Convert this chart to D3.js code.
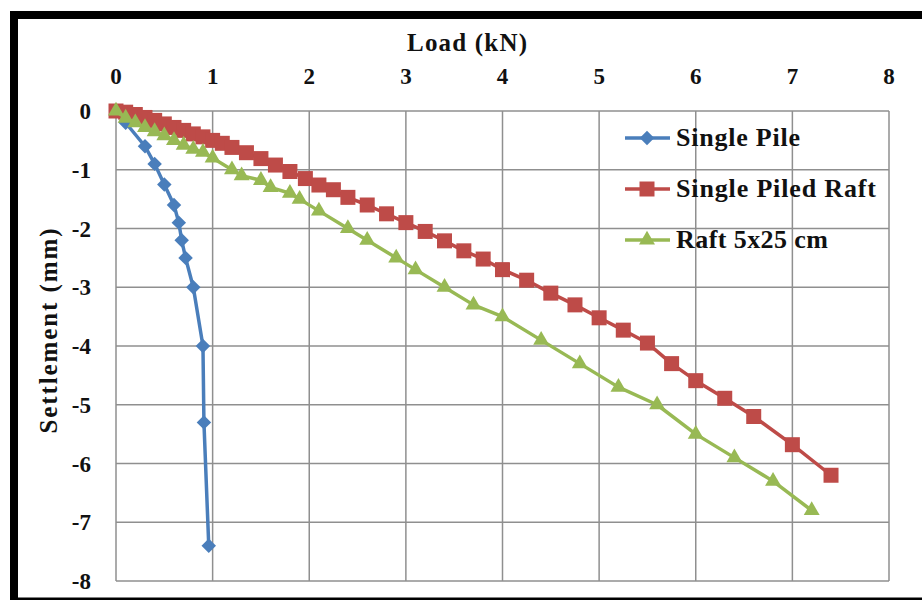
<!DOCTYPE html>
<html>
<head>
<meta charset="utf-8">
<script src="https://cdn.jsdelivr.net/npm/d3@7"></script>
<style>
  body { margin: 0; background: #fff; }
  svg { display: block; }
  text { font-family: "Liberation Serif", serif; font-weight: bold; fill: #111; }
</style>
</head>
<body>
<div id="chart"></div>
<script>
// load (kN) vs settlement (mm)
const singlePile = [
  [0, 0], [0.1, -0.2], [0.3, -0.6], [0.4, -0.9], [0.5, -1.25], [0.6, -1.6],
  [0.65, -1.9], [0.68, -2.2], [0.72, -2.5], [0.8, -3.0], [0.9, -4.0],
  [0.91, -5.3], [0.96, -7.4]
];
const singlePiledRaft = [
  [0, 0], [0.1, -0.02], [0.2, -0.06], [0.3, -0.11], [0.4, -0.16], [0.5, -0.22],
  [0.6, -0.28], [0.7, -0.33], [0.8, -0.39], [0.9, -0.44], [1.0, -0.5],
  [1.1, -0.55], [1.2, -0.62], [1.35, -0.71], [1.5, -0.81], [1.65, -0.92],
  [1.8, -1.03], [1.96, -1.15], [2.1, -1.26], [2.25, -1.34], [2.4, -1.47],
  [2.6, -1.6], [2.8, -1.75], [3.0, -1.9], [3.2, -2.05], [3.4, -2.21],
  [3.6, -2.38], [3.8, -2.52], [4.0, -2.7], [4.25, -2.88], [4.5, -3.1],
  [4.75, -3.3], [5.0, -3.52], [5.25, -3.73], [5.5, -3.95], [5.75, -4.3],
  [6.0, -4.59], [6.3, -4.89], [6.6, -5.2], [7.0, -5.68], [7.4, -6.2]
];
const raft = [
  [0, 0], [0.1, -0.12], [0.2, -0.2], [0.3, -0.28], [0.4, -0.35], [0.5, -0.42],
  [0.6, -0.5], [0.7, -0.58], [0.8, -0.65], [0.9, -0.7], [1.0, -0.8],
  [1.2, -1.0], [1.3, -1.1], [1.5, -1.18], [1.6, -1.3], [1.8, -1.4],
  [1.9, -1.5], [2.1, -1.7], [2.4, -2.0], [2.6, -2.2], [2.9, -2.5],
  [3.1, -2.7], [3.4, -3.0], [3.7, -3.3], [4.0, -3.5], [4.4, -3.9],
  [4.8, -4.3], [5.2, -4.7], [5.6, -5.0], [6.0, -5.5], [6.4, -5.9],
  [6.8, -6.3], [7.2, -6.8]
];
const xTicks = [0, 1, 2, 3, 4, 5, 6, 7, 8];
const yTicks = [0, -1, -2, -3, -4, -5, -6, -7, -8];
const seriesNames = ["Single Pile", "Single Piled Raft", "Raft 5x25 cm"];

const width = 922;
const height = 600;
const margin = { top: 111, right: 33, bottom: 19, left: 116 };

const series = [
  { name: seriesNames[0], data: singlePile, color: "#4a7ebb", symbol: "diamond" },
  { name: seriesNames[1], data: singlePiledRaft, color: "#be4b48", symbol: "square" },
  { name: seriesNames[2], data: raft, color: "#98b954", symbol: "triangle" },
];

const x = d3.scaleLinear().domain([0, 8]).range([margin.left, width - margin.right]);
const y = d3.scaleLinear().domain([-8, 0]).range([height - margin.bottom, margin.top]);

const svg = d3.select("#chart").append("svg")
  .attr("width", width)
  .attr("height", height);

// grid
const gGrid = svg.append("g").attr("class", "grid");
gGrid.selectAll(".vline").data(xTicks).join("line")
  .attr("x1", (d) => x(d)).attr("x2", (d) => x(d))
  .attr("y1", y(0)).attr("y2", y(-8))
  .attr("stroke", "#8f8f8f").attr("stroke-width", 1.5);
gGrid.selectAll(".hline").data(yTicks).join("line")
  .attr("y1", (d) => y(d)).attr("y2", (d) => y(d))
  .attr("x1", x(0)).attr("x2", x(8))
  .attr("stroke", "#8f8f8f").attr("stroke-width", 1.5);

// tick labels
svg.append("g").selectAll("text").data(xTicks).join("text")
  .attr("x", (d) => x(d))
  .attr("y", 84)
  .attr("text-anchor", "middle")
  .attr("font-size", 23)
  .text((d) => d);
svg.append("g").selectAll("text").data(yTicks).join("text")
  .attr("x", 91)
  .attr("y", (d) => y(d))
  .attr("dy", "0.35em")
  .attr("text-anchor", "end")
  .attr("font-size", 23)
  .text((d) => d);

// axis titles
svg.append("text")
  .attr("x", 467).attr("y", 51)
  .attr("text-anchor", "middle")
  .attr("font-size", 25)
  .attr("textLength", 120).attr("lengthAdjust", "spacing")
  .text("Load (kN)");
svg.append("text")
  .attr("transform", "translate(57,331) rotate(-90)")
  .attr("text-anchor", "middle")
  .attr("font-size", 25)
  .attr("textLength", 205).attr("lengthAdjust", "spacing")
  .text("Settlement (mm)");

const symbolFor = {
  diamond: d3.symbol(d3.symbolSquare, 105)(),
  square: d3.symbol(d3.symbolSquare, 225)(),
  triangle: d3.symbol(d3.symbolTriangle, 110)(),
};
const rotateFor = { diamond: 45, square: 0, triangle: 0 };

const line = d3.line().x((d) => x(d[0])).y((d) => y(d[1]));

series.forEach((s) => {
  const g = svg.append("g").attr("class", "series");
  g.append("path")
    .attr("d", line(s.data))
    .attr("fill", "none")
    .attr("stroke", s.color)
    .attr("stroke-width", 3.5)
    .attr("stroke-linejoin", "round");
  g.selectAll(".marker").data(s.data).join("path")
    .attr("class", "marker")
    .attr("d", symbolFor[s.symbol])
    .attr("transform", (d) => `translate(${x(d[0])},${y(d[1])}) rotate(${rotateFor[s.symbol]})`)
    .attr("fill", s.color);
});

// legend
const legend = svg.append("g").attr("class", "legend");
const legendY = d3.scalePoint().domain(seriesNames).range([138, 240]);
const legendWidths = [124, 200, 152];
series.forEach((s, i) => {
  const ly = legendY(s.name);
  legend.append("line")
    .attr("x1", 625).attr("x2", 670)
    .attr("y1", ly).attr("y2", ly)
    .attr("stroke", s.color).attr("stroke-width", 3.5);
  legend.append("path")
    .attr("d", symbolFor[s.symbol])
    .attr("transform", `translate(647,${ly}) rotate(${rotateFor[s.symbol]})`)
    .attr("fill", s.color);
  legend.append("text")
    .attr("x", 676).attr("y", ly + 8)
    .attr("font-size", 26)
    .attr("textLength", legendWidths[i]).attr("lengthAdjust", "spacing")
    .text(s.name);
});

// black frame
svg.append("rect")
  .attr("x", 14).attr("y", 15)
  .attr("width", width + 10).attr("height", 586.5)
  .attr("fill", "none")
  .attr("stroke", "#000")
  .attr("stroke-width", 8);
</script>
</body>
</html>
